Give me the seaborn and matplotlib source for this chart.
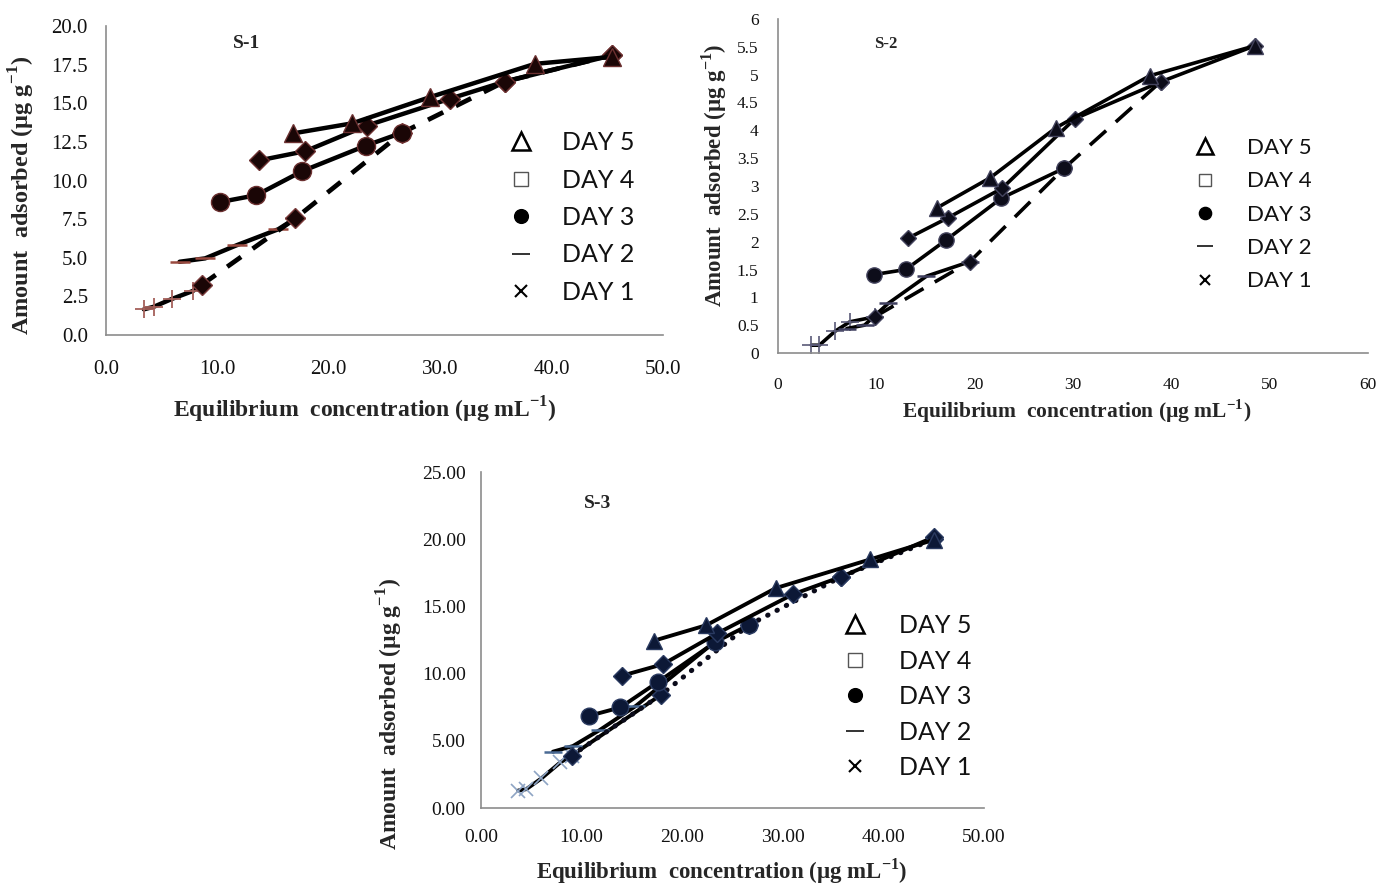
import matplotlib
matplotlib.use("Agg")
import matplotlib.pyplot as plt
import numpy as np
import pandas as pd
import seaborn as sns
from matplotlib.lines import Line2D

# ---------------- data ----------------
# S-1
s1_day5_x = [16.8, 22.1, 29.1, 38.5, 45.4]
s1_day5_y = [13.05, 13.7, 15.4, 17.55, 18.0]
s1_day4_x = [13.75, 17.9, 23.4, 30.9, 35.8, 45.4]
s1_day4_y = [11.3, 11.9, 13.55, 15.3, 16.4, 18.1]
s1_day3_x = [10.2, 13.5, 17.6, 23.3, 26.6]
s1_day3_y = [8.6, 9.05, 10.6, 12.25, 13.1]
s1_day2_x = [6.6, 8.9, 11.8, 15.45, 17.0]
s1_day2_y = [4.74, 4.96, 5.83, 6.84, 7.55]
s1_day1_x = [3.4, 4.3, 5.9, 7.8, 8.6]
s1_day1_y = [1.66, 1.83, 2.33, 2.85, 3.25]
s1_fit_x = [8.6, 17.0, 26.6, 35.8, 45.4]
s1_fit_y = [3.25, 7.55, 13.1, 16.4, 18.1]

# S-2
s2_day5_x = [16.2, 21.6, 28.3, 37.8, 48.5]
s2_day5_y = [2.61, 3.15, 4.05, 4.98, 5.52]
s2_day4_x = [13.2, 17.3, 22.8, 30.2, 38.9, 48.5]
s2_day4_y = [2.06, 2.43, 2.96, 4.21, 4.87, 5.52]
s2_day3_x = [9.8, 13.0, 17.1, 22.7, 29.1]
s2_day3_y = [1.41, 1.50, 2.03, 2.78, 3.32]
s2_day2_x = [7.0, 8.8, 11.2, 15.1, 19.5]
s2_day2_y = [0.44, 0.50, 0.89, 1.38, 1.64]
s2_day1_x = [3.4, 4.2, 5.8, 7.3, 9.84]
s2_day1_y = [0.14, 0.14, 0.39, 0.56, 0.65]
s2_fit_x = [9.84, 19.5, 29.1, 38.9]
s2_fit_y = [0.65, 1.64, 3.32, 4.87]

# S-3
s3_day5_x = [17.2, 22.4, 29.3, 38.7, 45.0]
s3_day5_y = [12.45, 13.6, 16.36, 18.5, 19.95]
s3_day4_x = [14.0, 18.1, 23.5, 31.0, 35.8, 45.0]
s3_day4_y = [9.84, 10.7, 13.0, 15.9, 17.2, 20.15]
s3_day3_x = [10.7, 13.85, 17.6, 23.3, 26.6]
s3_day3_y = [6.85, 7.48, 9.38, 12.35, 13.6]
s3_day2_x = [7.15, 9.14, 11.8, 15.4, 23.3]
s3_day2_y = [4.19, 4.61, 5.8, 7.6, 12.4]
s3_day1_x = [3.7, 4.5, 6.0, 7.9, 9.0, 17.85]
s3_day1_y = [1.3, 1.4, 2.2, 3.4, 3.9, 8.4]
s3_fit_x = [9.0, 17.85, 26.6, 35.8, 45.0]
s3_fit_y = [3.9, 8.4, 13.6, 17.2, 20.0]

legend_labels = ["DAY 5", "DAY 4", "DAY 3", "DAY 2", "DAY 1"]

s1_xticks = [0, 10, 20, 30, 40, 50]
s1_yticks = [0, 2.5, 5, 7.5, 10, 12.5, 15, 17.5, 20]
s2_xticks = [0, 10, 20, 30, 40, 50, 60]
s2_yticks = [0, 0.5, 1, 1.5, 2, 2.5, 3, 3.5, 4, 4.5, 5, 5.5, 6]
s3_xticks = [0, 10, 20, 30, 40, 50]
s3_yticks = [0, 5, 10, 15, 20, 25]

# ---------------- style ----------------
sns.set_theme(style="white")
plt.rcParams["font.family"] = ["Liberation Serif", "DejaVu Serif"]
plt.rcParams["mathtext.fontset"] = "custom"
plt.rcParams["mathtext.rm"] = "Liberation Serif"
plt.rcParams["mathtext.bf"] = "Liberation Serif:bold"

W, H = 1377, 888
fig = plt.figure(figsize=(W / 100, H / 100), dpi=100)
fig.patch.set_facecolor("white")


def px_axes(l, r, t, b):
    return fig.add_axes([l / W, 1 - b / H, (r - l) / W, (b - t) / H])


def line(ax, x, y, **kw):
    df = pd.DataFrame({"x": x, "y": y})
    sns.lineplot(data=df, x="x", y="y", ax=ax, sort=False, estimator=None,
                 legend=False, **kw)


def style_axes(ax, xticks, yticks, xfmt, yfmt, tick_fs, padx, pady):
    for s in ["top", "right"]:
        ax.spines[s].set_visible(False)
    for s in ["left", "bottom"]:
        ax.spines[s].set_color("#8c8c8c")
        ax.spines[s].set_linewidth(1.2)
    ax.set_xticks(xticks)
    ax.set_yticks(yticks)
    ax.set_xticklabels([xfmt(v) for v in xticks])
    ax.set_yticklabels([yfmt(v) for v in yticks])
    ax.tick_params(axis="both", direction="out", length=4, width=1,
                   color="#8c8c8c", labelsize=tick_fs, labelcolor="#111111")
    ax.tick_params(axis="x", pad=padx)
    ax.tick_params(axis="y", pad=pady)
    ax.set_xlabel("")
    ax.set_ylabel("")
    ax.grid(False)
    ax.set_facecolor("none")


def add_legend(ax, x_sym, y_top, fs, spacing, textpad):
    handles = [
        Line2D([], [], ls="none", marker="^", mfc="none", mec="black", mew=1.8, ms=fs * 0.7),
        Line2D([], [], ls="none", marker="s", mfc="none", mec="#555555", mew=1.0, ms=fs * 0.55),
        Line2D([], [], ls="none", marker="o", mfc="black", mec="black", ms=fs * 0.55),
        Line2D([], [], ls="none", marker="_", mfc="black", mec="#333333", mew=1.4, ms=fs * 0.7),
        Line2D([], [], ls="none", marker="x", mfc="black", mec="black", mew=1.5, ms=fs * 0.45),
    ]
    hl = 1.0
    left = x_sym - hl * fs * 100 / 72 / 2
    leg = ax.legend(handles, legend_labels, loc="upper left",
                    bbox_to_anchor=(left / W, 1 - y_top / H),
                    bbox_transform=fig.transFigure, frameon=False,
                    borderpad=0, borderaxespad=0, handlelength=hl,
                    handletextpad=textpad, labelspacing=spacing,
                    prop={"family": ["Lato", "DejaVu Sans"], "size": fs})
    for t in leg.get_texts():
        t.set_color("#111111")
    return leg


serif_bold = {"family": ["Liberation Serif"], "weight": "bold"}

# ---------------- S-1 ----------------
ax1 = px_axes(106, 663, 26, 335)
k1 = dict(color="black", linewidth=3.2)
line(ax1, s1_day1_x, s1_day1_y, marker="+", markersize=13, mew=1.3,
     mec="#a5605a", **k1)
line(ax1, s1_day2_x, s1_day2_y, marker="_", markersize=14, mew=1.8,
     mec="#9a4a40", **k1)
line(ax1, s1_fit_x, s1_fit_y, color="black", linewidth=3.4,
     linestyle=(0, (3.6, 3.0)), marker="D", markersize=10,
     mfc="#1a0606", mec="#7a3b3b", mew=1.0)
line(ax1, s1_day3_x, s1_day3_y, marker="o", markersize=13,
     mfc="#1a0606", mec="#6b3030", mew=1.0, **k1)
line(ax1, s1_day4_x, s1_day4_y, marker="D", markersize=10,
     mfc="#1a0606", mec="#6b3030", mew=1.0, **k1)
line(ax1, s1_day5_x, s1_day5_y, marker="^", markersize=13,
     mfc="#1a0606", mec="#6b3030", mew=1.0, **k1)
ax1.set_xlim(0, 50)
ax1.set_ylim(0, 20)
style_axes(ax1, s1_xticks, s1_yticks, lambda v: f"{v:.1f}", lambda v: f"{v:.1f}",
           15, 14, 9)
fig.text(247 / W, 1 - 44 / H, "S-1", ha="center", va="center", fontsize=14, **serif_bold)
fig.text(22 / W, 1 - 195 / H, r"Amount  adsorbed (µg g$^{\mathbf{-1}}$)", rotation=90,
         ha="center", va="center", fontsize=17.5, **serif_bold)
fig.text(365 / W, 1 - 410 / H, r"Equilibrium  concentration (µg mL$^{\mathbf{-1}}$)",
         ha="center", va="center", fontsize=17, **serif_bold)
add_legend(ax1, 521, 131, 18, 0.58, 1.15)

# ---------------- S-2 ----------------
ax2 = px_axes(778, 1368, 19, 353)
k2 = dict(color="black", linewidth=2.6)
line(ax2, s2_day1_x, s2_day1_y, marker="+", markersize=13, mew=1.2,
     mec="#5a5a78", **k2)
line(ax2, s2_day2_x, s2_day2_y, marker="_", markersize=13, mew=1.8,
     mec="#3f3f5f", **k2)
line(ax2, s2_fit_x, s2_fit_y, color="black", linewidth=2.6,
     linestyle=(0, (6.0, 3.6)), marker="D", markersize=8.5,
     mfc="#0d0d1a", mec="#44445e", mew=1.0)
line(ax2, s2_day3_x, s2_day3_y, marker="o", markersize=11,
     mfc="#0d0d1a", mec="#44445e", mew=1.0, **k2)
line(ax2, s2_day4_x, s2_day4_y, marker="D", markersize=8.5,
     mfc="#0d0d1a", mec="#44445e", mew=1.0, **k2)
line(ax2, s2_day5_x, s2_day5_y, marker="^", markersize=11,
     mfc="#0d0d1a", mec="#44445e", mew=1.0, **k2)
ax2.set_xlim(0, 60)
ax2.set_ylim(0, 6)
style_axes(ax2, s2_xticks, s2_yticks, lambda v: f"{v:g}", lambda v: f"{v:g}",
           12.5, 13, 10)
fig.text(886 / W, 1 - 44 / H, "S-2", ha="center", va="center", fontsize=12, **serif_bold)
fig.text(714 / W, 1 - 175 / H, r"Amount  adsorbed (µg g$^{\mathbf{-1}}$)", rotation=90,
         ha="center", va="center", fontsize=16.5, **serif_bold)
fig.text(1077 / W, 1 - 411 / H, r"Equilibrium  concentration (µg mL$^{\mathbf{-1}}$)",
         ha="center", va="center", fontsize=15.5, **serif_bold)
add_legend(ax2, 1205, 138, 16, 0.6, 1.4)

# ---------------- S-3 ----------------
ax3 = px_axes(481, 984, 472, 808)
k3 = dict(color="black", linewidth=2.8)
line(ax3, s3_day1_x, s3_day1_y, marker="x", markersize=10, mew=1.2,
     mec="#8ea4c4", markevery=[0, 1, 2, 3, 4], **k3)
line(ax3, s3_day2_x, s3_day2_y, marker="_", markersize=13, mew=1.8,
     mec="#4a6a94", markevery=[0, 1, 2, 3], **k3)
line(ax3, s3_fit_x, s3_fit_y, color="#0b0b1a", linewidth=3.6,
     linestyle=(0, (0.1, 2.0)), dash_capstyle="round", marker="D", markersize=9,
     mfc="#0c1836", mec="#2a3a60", mew=1.0)
line(ax3, s3_day3_x, s3_day3_y, marker="o", markersize=12,
     mfc="#0c1836", mec="#2a3a60", mew=1.0, **k3)
line(ax3, s3_day4_x, s3_day4_y, marker="D", markersize=9,
     mfc="#0c1836", mec="#2a3a60", mew=1.0, **k3)
line(ax3, s3_day5_x, s3_day5_y, marker="^", markersize=12,
     mfc="#0c1836", mec="#2a3a60", mew=1.0, **k3)
ax3.set_xlim(0, 50)
ax3.set_ylim(0, 25)
style_axes(ax3, s3_xticks, s3_yticks, lambda v: f"{v:.2f}", lambda v: f"{v:.2f}",
           14, 11, 7)
fig.text(598 / W, 1 - 503 / H, "S-3", ha="center", va="center", fontsize=14, **serif_bold)
fig.text(390 / W, 1 - 714 / H, r"Amount  adsorbed (µg g$^{\mathbf{-1}}$)", rotation=90,
         ha="center", va="center", fontsize=17, **serif_bold)
fig.text(722 / W, 1 - 871 / H, r"Equilibrium  concentration (µg mL$^{\mathbf{-1}}$)",
         ha="center", va="center", fontsize=16.5, **serif_bold)
add_legend(ax3, 855, 614, 18, 0.5, 1.25)

fig.savefig("out.png", dpi=100, facecolor="white")
